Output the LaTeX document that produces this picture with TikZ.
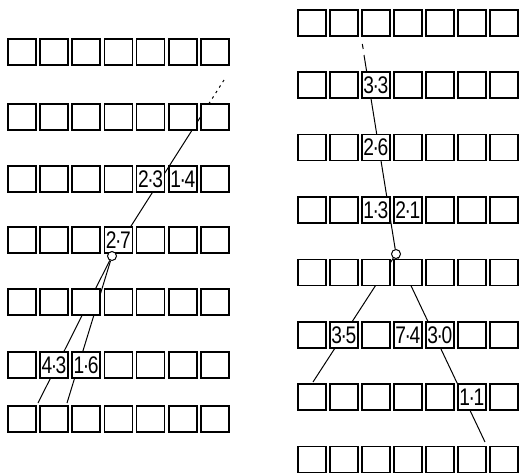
\documentclass[tikz,border=0pt]{standalone}
\usepackage{fontspec}
\setmainfont{Liberation Sans}
\pgfdeclarelayer{bg}
\pgfsetlayers{bg,main}
\newcommand{\dv}[2]{\scalebox{0.8}[1]{#1\kern-1.8pt·\kern-1.8pt#2}}
\newcommand{\setlab}[2]{\expandafter\def\csname lab#1\endcsname{#2}}
\newcommand{\getlab}[1]{\ifcsname lab#1\endcsname\csname lab#1\endcsname\fi}
\setlab{L3-5}{\dv23}
\setlab{L3-6}{\dv14}
\setlab{L4-4}{\dv27}
\setlab{L6-2}{\dv43}
\setlab{L6-3}{\dv16}
\setlab{R2-3}{\dv33}
\setlab{R3-3}{\dv26}
\setlab{R4-3}{\dv13}
\setlab{R4-4}{\dv21}
\setlab{R6-2}{\dv35}
\setlab{R6-4}{\dv74}
\setlab{R6-5}{\dv30}
\setlab{R7-6}{\dv11}
\begin{document}
\begin{tikzpicture}[x=1pt,y=-1pt,
  cell/.style={draw, line width=1.5pt, fill=white, minimum width=28pt, minimum height=26pt,
    inner sep=0pt, anchor=north west, font=\fontsize{24}{24}\selectfont},
  hub/.style={circle, draw, line width=1pt, fill=white, minimum size=9pt, inner sep=0pt},
  link/.style={line width=1pt},
  dotl/.style={line width=1pt, dash pattern=on 2.5pt off 4pt}]
\useasboundingbox (0,0) rectangle (520,475);
% left panel
\foreach \r/\y in {1/38,2/103,3/165,4/226,5/288,6/351,7/405}
  \foreach \c in {1,...,7}
    \node[cell] (L\r-\c) at ({7+32.2*(\c-1)},\y) {\getlab{L\r-\c}};
% right panel
\foreach \r/\y in {1/9,2/71.4,3/133.8,4/196.2,5/258.6,6/321,7/383.4,8/445.8}
  \foreach \c in {1,...,7}
    \node[cell] (R\r-\c) at ({297+32*(\c-1)},\y) {\getlab{R\r-\c}};
% hubs
\node[hub] (hL) at (112,256) {};
\node[hub] (hR) at (396,254) {};
% free ends
\coordinate (lA) at (208.7,104);
\coordinate (lB) at (224,80);
\coordinate (lC) at (38,403);
\coordinate (lD) at (67,403);
\coordinate (rA) at (364,55);
\coordinate (rB1) at (363.2,49);
\coordinate (rB2) at (362.3,44);
\coordinate (rC) at (313,382);
\coordinate (rD) at (485,442);
\begin{pgfonlayer}{bg}
  \draw[link] (hL) -- (lA);
  \draw[dotl] (lA) -- (lB);
  \draw[link] (hL) -- (lC);
  \draw[link] (hL) -- (lD);
  \draw[link] (hR) -- (rA);
  \draw[link] (rB1) -- (rB2);
  \draw[link] (hR) -- (rC);
  \draw[link] (hR) -- (rD);
\end{pgfonlayer}
\end{tikzpicture}
\end{document}
